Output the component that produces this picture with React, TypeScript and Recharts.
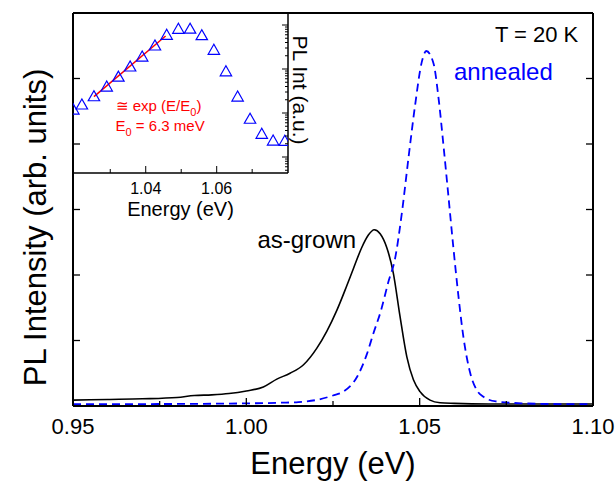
import React from 'react';
import { ComposedChart, Line, Scatter, XAxis, YAxis, ReferenceDot, Label } from 'recharts';

// main panel: PL spectra (linear intensity, arb. units)
const asGrownE = [0.95, 0.96, 0.97, 0.98, 0.985, 0.99, 0.995, 1.0, 1.0049, 1.0088, 1.0126, 1.0165, 1.0203, 1.0232, 1.0261, 1.029, 1.0309, 1.0333, 1.0352, 1.0369, 1.0386, 1.0405, 1.0424, 1.0443, 1.0463, 1.0482, 1.0501, 1.053, 1.0559, 1.06, 1.07, 1.08, 1.09, 1.1];
const asGrownI = [0.09, 0.1, 0.11, 0.13, 0.16, 0.17, 0.19, 0.23, 0.29, 0.41, 0.5, 0.63, 0.88, 1.14, 1.46, 1.84, 2.1, 2.42, 2.61, 2.69, 2.63, 2.42, 2.03, 1.38, 0.75, 0.4, 0.22, 0.09, 0.05, 0.04, 0.03, 0.03, 0.03, 0.03];

const annealedE = [0.95, 0.97, 1.0, 1.01, 1.015, 1.02, 1.025, 1.028, 1.032, 1.0347, 1.0366, 1.0388, 1.041, 1.0429, 1.0448, 1.0468, 1.0487, 1.0506, 1.0519, 1.054, 1.0554, 1.0569, 1.0583, 1.0597, 1.0612, 1.0626, 1.0646, 1.0665, 1.0684, 1.072, 1.08, 1.09, 1.1];
const annealedI = [0.03, 0.03, 0.04, 0.05, 0.06, 0.09, 0.16, 0.22, 0.45, 0.78, 1.1, 1.45, 1.9, 2.25, 2.92, 3.8, 4.6, 5.25, 5.42, 5.23, 4.72, 3.96, 3.2, 2.43, 1.67, 1.06, 0.5, 0.24, 0.14, 0.07, 0.04, 0.03, 0.03];

// inset: annealed sample, log scale
const insetE = [1.0196, 1.022, 1.0254, 1.029, 1.0323, 1.0356, 1.039, 1.0426, 1.0459, 1.0492, 1.0525, 1.0558, 1.0592, 1.0626, 1.0659, 1.0694, 1.0727, 1.0759, 1.0792];
const insetI = [12.3, 16, 24.7, 41, 69, 117, 197, 351, 615, 841, 845, 602, 280, 91, 24.3, 7.6, 3.46, 2.43, 2.4];
const fitE = [1.0254, 1.0456];
const fitI = [23.5, 562];

const mainXTicks = [0.95, 0.975, 1.0, 1.025, 1.05, 1.075, 1.1];
const mainYTicks = [1, 2, 3, 4, 5];
const insetXTicks = [1.03, 1.04, 1.05, 1.06, 1.07];
const insetYTicks = [0.5, 0.6, 0.7, 0.8, 0.9, 1, 2, 3, 4, 5, 6, 7, 8, 9, 10, 20, 30, 40, 50, 60, 70, 80, 90, 100, 200, 300, 400, 500, 600, 700, 800, 900, 1000];

const FONT = '"Liberation Sans", Arial, sans-serif';

const asGrown = asGrownE.map((e, k) => ({ e, v: asGrownI[k] }));
const annealed = annealedE.map((e, k) => ({ e, v: annealedI[k] }));
const insetPts = insetE.map((e, k) => ({ e, i: insetI[k] }));
const fitPts = fitE.map((e, k) => ({ e, i: fitI[k] }));

const MainXTick = (props: any) => {
  const { x, y, payload } = props;
  const v = payload.value;
  const major = Math.round(v * 100) % 5 === 0;
  return (
    <g>
      <line x1={x} x2={x} y1={y} y2={y - (major ? 8 : 5)} stroke="#000" strokeWidth={1.3} />
      {major && (
        <text x={x} y={y + 28} textAnchor="middle" fontSize={22} fontFamily={FONT} fill="#000">
          {v.toFixed(2)}
        </text>
      )}
    </g>
  );
};

const MainYTickL = (props: any) => (
  <line x1={props.x} x2={props.x + 7} y1={props.y} y2={props.y} stroke="#000" strokeWidth={1.3} />
);
const MainYTickR = (props: any) => (
  <line x1={props.x} x2={props.x - 7} y1={props.y} y2={props.y} stroke="#000" strokeWidth={1.3} />
);

const InsetXTick = (props: any) => {
  const { x, y, payload } = props;
  const v = payload.value;
  const major = Math.round(v * 100) % 2 === 0;
  return (
    <g>
      <line x1={x} x2={x} y1={y} y2={y - (major ? 7 : 4)} stroke="#000" strokeWidth={1} />
      {major && (
        <text x={x} y={y + 21} textAnchor="middle" fontSize={16} fontFamily={FONT} fill="#000">
          {v.toFixed(2)}
        </text>
      )}
    </g>
  );
};

const InsetYTick = (props: any) => {
  const lg = Math.log10(props.payload.value);
  const major = Math.abs(lg - Math.round(lg)) < 1e-6;
  return (
    <line x1={props.x} x2={props.x - (major ? 6 : 3)} y1={props.y} y2={props.y} stroke="#000" strokeWidth={1} />
  );
};

const Tri = (props: any) => {
  const { cx, cy } = props;
  return (
    <polygon
      points={`${cx},${cy - 5} ${cx - 5.7},${cy + 5} ${cx + 5.7},${cy + 5}`}
      fill="none"
      stroke="#0000ff"
      strokeWidth={1.2}
    />
  );
};

const XTitle = (props: any) => {
  const vb = props.viewBox;
  return (
    <text x={vb.x + vb.width / 2} y={vb.y + 68} textAnchor="middle" fontSize={31} fontFamily={FONT} fill="#000">
      Energy (eV)
    </text>
  );
};

const YTitle = (props: any) => {
  const vb = props.viewBox;
  const cx = vb.x - 26;
  const cy = vb.y + vb.height / 2 + 18;
  return (
    <text x={cx} y={cy} transform={`rotate(-90 ${cx} ${cy})`} textAnchor="middle" fontSize={31} fontFamily={FONT} fill="#000">
      PL Intensity (arb. units)
    </text>
  );
};

const InsetXTitle = (props: any) => {
  const vb = props.viewBox;
  return (
    <text x={vb.x + vb.width / 2} y={vb.y + 43} textAnchor="middle" fontSize={20} fontFamily={FONT} fill="#000">
      Energy (eV)
    </text>
  );
};

const InsetYTitle = (props: any) => {
  const vb = props.viewBox;
  const cx = vb.x + 5;
  const cy = vb.y + 77;
  return (
    <text x={cx} y={cy} transform={`rotate(90 ${cx} ${cy})`} textAnchor="middle" fontSize={21} fontFamily={FONT} fill="#000">
      PL Int (a.u.)
    </text>
  );
};

const textAt = (txt: string, color: string, size: number) => (props: any) => (
  <text x={props.viewBox.x} y={props.viewBox.y} fontSize={size} fontFamily={FONT} fill={color}>
    {txt}
  </text>
);

const FitText = (props: any) => {
  const { x, y } = props.viewBox;
  return (
    <text x={x} y={y} fontSize={15} fontFamily={FONT} fill="#ff0000">
      <tspan x={x}>≅ exp (E/E</tspan>
      <tspan fontSize={11} dy={5}>0</tspan>
      <tspan dy={-5}>)</tspan>
      <tspan x={x} dy={20}>E</tspan>
      <tspan fontSize={11} dy={5}>0</tspan>
      <tspan dy={-5}> = 6.3 meV</tspan>
    </text>
  );
};

const axisStyle = { stroke: '#000', strokeWidth: 2 };

export default function App() {
  return (
    <div style={{ position: 'absolute', left: 0, top: 0, width: 616, height: 484, background: '#fff' }}>
      <ComposedChart width={616} height={484} margin={{ top: 12, right: 22, bottom: 77, left: 72 }}>
        <XAxis
          xAxisId="b"
          dataKey="e"
          type="number"
          domain={[0.95, 1.1]}
          allowDataOverflow
          ticks={mainXTicks}
          interval={0}
          height={1}
          tickSize={0}
          tickMargin={0}
          tickLine={false}
          axisLine={axisStyle}
          tick={<MainXTick />}
        >
          <Label content={XTitle} />
        </XAxis>
        <XAxis xAxisId="t" orientation="top" type="number" domain={[0.95, 1.1]} allowDataOverflow height={1} tick={false} tickLine={false} axisLine={axisStyle} />
        <YAxis
          yAxisId="l"
          type="number"
          domain={[0, 6]}
          allowDataOverflow
          ticks={mainYTicks}
          interval={0}
          width={1}
          tickSize={0}
          tickMargin={0}
          tickLine={false}
          axisLine={axisStyle}
          tick={<MainYTickL />}
        >
          <Label content={YTitle} />
        </YAxis>
        <YAxis
          yAxisId="r"
          orientation="right"
          type="number"
          domain={[0, 6]}
          allowDataOverflow
          ticks={mainYTicks}
          interval={0}
          width={1}
          tickSize={0}
          tickMargin={0}
          tickLine={false}
          axisLine={axisStyle}
          tick={<MainYTickR />}
        />
        <Line xAxisId="b" yAxisId="l" data={asGrown} dataKey="v" type="monotone" stroke="#000" strokeWidth={1.6} dot={false} isAnimationActive={false} />
        <Line xAxisId="b" yAxisId="l" data={annealed} dataKey="v" type="monotone" stroke="#0000ff" strokeWidth={1.8} strokeDasharray="8 5" dot={false} isAnimationActive={false} />
        <ReferenceDot xAxisId="b" yAxisId="l" x={1.0032} y={2.41} r={0} stroke="none" label={textAt('as-grown', '#000', 24)} />
        <ReferenceDot xAxisId="b" yAxisId="l" x={1.0599} y={4.98} r={0} stroke="none" label={textAt('annealed', '#0000ff', 24)} />
        <ReferenceDot xAxisId="b" yAxisId="l" x={1.0717} y={5.56} r={0} stroke="none" label={textAt('T = 20 K', '#000', 22)} />
      </ComposedChart>

      <div style={{ position: 'absolute', left: 0, top: 0 }}>
        <ComposedChart width={320} height={230} margin={{ top: 13, right: 31, bottom: 56, left: 73 }}>
          <XAxis
            dataKey="e"
            type="number"
            domain={[1.0195, 1.0801]}
            allowDataOverflow
            ticks={insetXTicks}
            interval={0}
            height={1}
            tickSize={0}
            tickMargin={0}
            tickLine={false}
            axisLine={{ stroke: '#000', strokeWidth: 1.5 }}
            tick={<InsetXTick />}
          >
            <Label content={InsetXTitle} />
          </XAxis>
          <YAxis
            orientation="right"
            dataKey="i"
            type="number"
            scale="log"
            domain={[0.433, 1874]}
            allowDataOverflow
            ticks={insetYTicks}
            interval={0}
            width={1}
            tickSize={0}
            tickMargin={0}
            tickLine={false}
            axisLine={{ stroke: '#000', strokeWidth: 1.5 }}
            tick={<InsetYTick />}
          >
            <Label content={InsetYTitle} />
          </YAxis>
          <Scatter data={insetPts} dataKey="i" shape={<Tri />} isAnimationActive={false} />
          <Line data={fitPts} dataKey="i" type="linear" stroke="#ff0000" strokeWidth={1.5} dot={false} isAnimationActive={false} />
          <ReferenceDot x={1.0315} y={11.1} r={0} stroke="none" label={FitText} />
        </ComposedChart>
      </div>
    </div>
  );
}
